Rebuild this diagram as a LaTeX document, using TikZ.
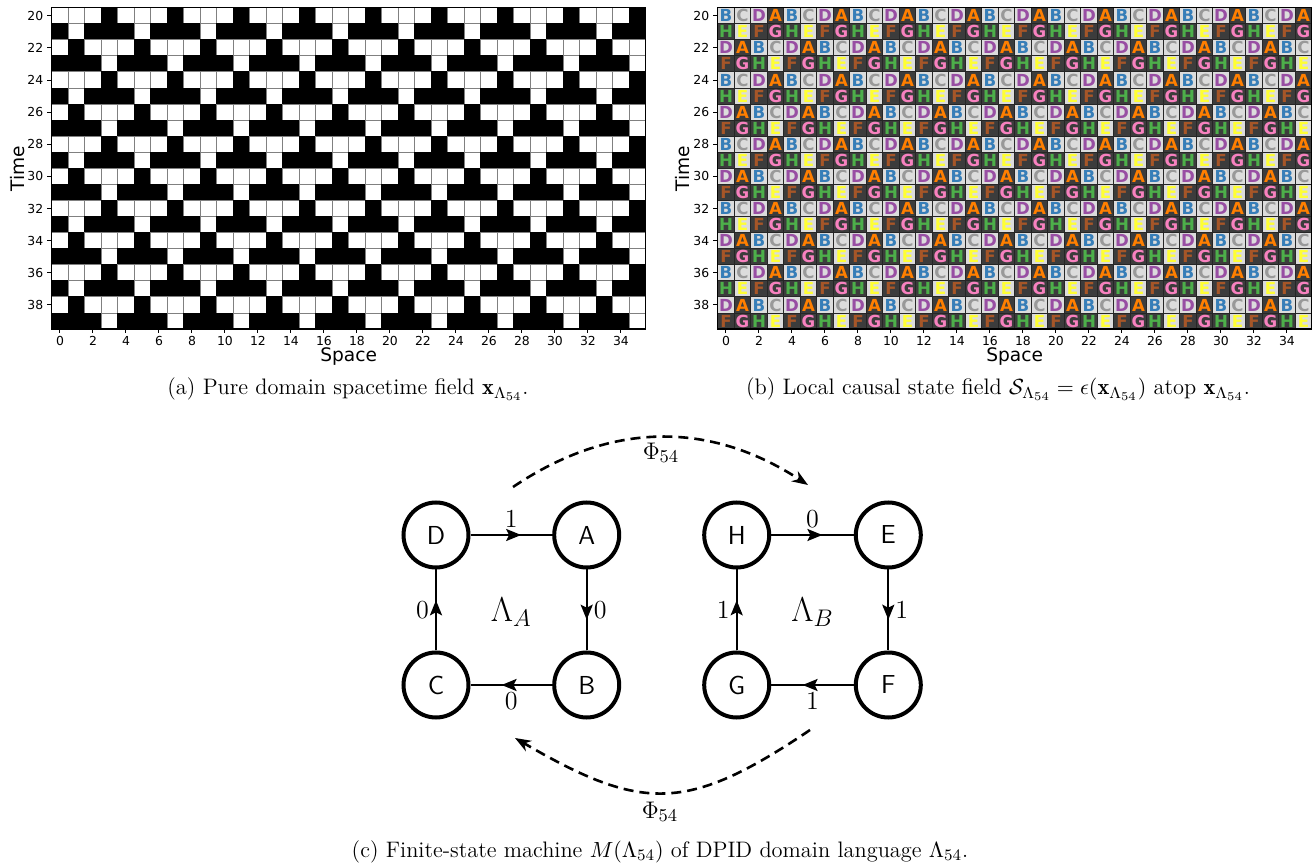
\documentclass[tikz,border=0pt]{standalone}
\usepackage{fontspec}
\usetikzlibrary{arrows.meta,decorations.markings}
\newfontfamily\mplfont{DejaVu Sans}

\definecolor{stA}{HTML}{FF7F00}
\definecolor{stB}{HTML}{377EB8}
\definecolor{stC}{HTML}{999999}
\definecolor{stD}{HTML}{984EA3}
\definecolor{stE}{HTML}{FFFF33}
\definecolor{stF}{HTML}{A65628}
\definecolor{stG}{HTML}{F781BF}
\definecolor{stH}{HTML}{4DAF4A}
\definecolor{lightbg}{HTML}{DCDCDC}
\definecolor{darkbg}{HTML}{3C3C3C}
\definecolor{cellgrid}{HTML}{808080}
% black cells: A F G H, white cells: B C D E
\colorlet{bwA}{black}\colorlet{bwF}{black}\colorlet{bwG}{black}\colorlet{bwH}{black}
\colorlet{bwB}{white}\colorlet{bwC}{white}\colorlet{bwD}{white}\colorlet{bwE}{white}
\colorlet{bdA}{black}\colorlet{bdF}{black}\colorlet{bdG}{black}\colorlet{bdH}{black}
\colorlet{bdB}{cellgrid}\colorlet{bdC}{cellgrid}\colorlet{bdD}{cellgrid}\colorlet{bdE}{cellgrid}
\colorlet{bgA}{darkbg}\colorlet{bgF}{darkbg}\colorlet{bgG}{darkbg}\colorlet{bgH}{darkbg}
\colorlet{bgB}{lightbg}\colorlet{bgC}{lightbg}\colorlet{bgD}{lightbg}\colorlet{bgE}{lightbg}

% local causal state at (time mod 4, space mod 4)
\newcommand\cellstate[2]{\ifcase#1 \ifcase#2 B\or C\or D\or A\fi
  \or \ifcase#2 H\or E\or F\or G\fi
  \or \ifcase#2 D\or A\or B\or C\fi
  \or \ifcase#2 F\or G\or H\or E\fi\fi}

\begin{document}
\begin{tikzpicture}[x=0.5pt,y=-0.5pt,
  ticklbl/.style={font=\mplfont\fontsize{6.2}{7}\selectfont,inner sep=1.5pt},
  axlabel/.style={font=\mplfont\fontsize{9.3}{11}\selectfont},
  statelbl/.style={font=\mplfont\bfseries\fontsize{8.3}{9}\selectfont,inner sep=0pt},
  subcap/.style={font=\fontsize{11.2}{13}\selectfont,anchor=base},
  fsmstate/.style={circle,draw,line width=2pt,minimum size=32.5pt,inner sep=0pt,font=\sffamily\fontsize{13}{15}\selectfont},
  trans/.style={line width=1.1pt,postaction={decorate},
    decoration={markings,mark=at position 0.62 with {\arrow{Stealth[length=7.5pt,width=6pt,inset=1.5pt]}}}},
  edgelbl/.style={font=\fontsize{13}{15}\selectfont,inner sep=3pt},
  phimap/.style={-{Stealth[length=8pt,width=6pt]},line width=1.3pt,dash pattern=on 5pt off 3pt},
  phimark/.style={font=\fontsize{13}{15}\selectfont}]
\useasboundingbox (0,0) rectangle (1314,866);

% (a) spacetime field
\begin{scope}[shift={(51.7,7.7)},x=8.25pt,y=-8.035pt]
  \foreach \t in {0,...,19}{
    \pgfmathtruncatemacro\tph{mod(\t,4)}
    \foreach \s in {0,...,35}{
      \pgfmathtruncatemacro\xph{mod(\s,4)}
      \edef\cstate{\cellstate{\tph}{\xph}}
      \filldraw[fill=bw\cstate,draw=bd\cstate,line width=0.5pt] (\s,\t) rectangle ++(1,1);
    }
  }
  \draw[line width=0.6pt] (0,0) rectangle (36,20);
  \foreach \k in {0,2,...,34}
    \draw[line width=0.5pt] (\k+0.5,20) -- ++(0,0.25) node[below,ticklbl]{\k};
  \foreach \k in {0,2,...,18}{
    \pgfmathtruncatemacro\lab{\k+20}
    \draw[line width=0.5pt] (0,\k+0.5) -- ++(-0.3,0) node[left,ticklbl]{\lab};
  }
  \node[axlabel] at (18,21.7) {Space};
  \node[axlabel,rotate=90] at (-2.07,10) {Time};
\end{scope}

% (b) causal states atop the field
\begin{scope}[shift={(717.7,7.7)},x=8.25pt,y=-8.035pt]
  \foreach \t in {0,...,19}{
    \pgfmathtruncatemacro\tph{mod(\t,4)}
    \foreach \s in {0,...,35}{
      \pgfmathtruncatemacro\xph{mod(\s,4)}
      \edef\cstate{\cellstate{\tph}{\xph}}
      \filldraw[fill=bg\cstate,draw=black!85,line width=0.5pt] (\s,\t) rectangle ++(1,1);
      \node[statelbl,text=st\cstate] at (\s+0.5,\t+0.5) {\cstate};
    }
  }
  \draw[line width=0.6pt] (0,0) rectangle (36,20);
  \foreach \k in {0,2,...,34}
    \draw[line width=0.5pt] (\k+0.5,20) -- ++(0,0.25) node[below,ticklbl]{\k};
  \foreach \k in {0,2,...,18}{
    \pgfmathtruncatemacro\lab{\k+20}
    \draw[line width=0.5pt] (0,\k+0.5) -- ++(-0.3,0) node[left,ticklbl]{\lab};
  }
  \node[axlabel] at (18,21.7) {Space};
  \node[axlabel,rotate=90] at (-2.1,10) {Time};
\end{scope}

\node[subcap] (capa) at (348,395) {(a) Pure domain spacetime field $\mathbf{x}_{\Lambda_{54}}$.};
\node[subcap] (capb) at (998,395) {(b) Local causal state field $\mathcal{S}_{\Lambda_{54}} = \epsilon(\mathbf{x}_{\Lambda_{54}})$ atop $\mathbf{x}_{\Lambda_{54}}$.};

% (c) machine of the domain
\node[fsmstate] (D) at (436,535) {D};
\node[fsmstate] (A) at (586.7,535) {A};
\node[fsmstate] (C) at (436,685) {C};
\node[fsmstate] (B) at (586.7,685) {B};
\node[fsmstate] (H) at (736.7,535) {H};
\node[fsmstate] (E) at (888.3,535) {E};
\node[fsmstate] (G) at (736.7,685) {G};
\node[fsmstate] (F) at (888.3,685) {F};

\draw[trans] (D) -- node[edgelbl,above]{1} (A);
\draw[trans] (A) -- node[edgelbl,right]{0} (B);
\draw[trans] (B) -- node[edgelbl,below]{0} (C);
\draw[trans] (C) -- node[edgelbl,left]{0} (D);
\draw[trans] (H) -- node[edgelbl,above]{0} (E);
\draw[trans] (E) -- node[edgelbl,right]{1} (F);
\draw[trans] (F) -- node[edgelbl,below]{1} (G);
\draw[trans] (G) -- node[edgelbl,left]{1} (H);
\node[font=\fontsize{17}{19}\selectfont] (lamA) at (511.3,612) {$\Lambda_A$};
\node[font=\fontsize{17}{19}\selectfont] (lamB) at (812.5,612) {$\Lambda_B$};

\coordinate (topS) at (513,487);
\coordinate (topE) at (808,485);
\coordinate (botS) at (810,730);
\coordinate (botE) at (515,738);
\draw[phimap] (topS) .. controls +(98,-66) and +(-98,-64) .. (topE);
\draw[phimap] (botS) .. controls +(-123,83) and +(127,74) .. (botE);
\node[phimark] (phitop) at (661,453) {$\Phi_{54}$};
\node[phimark] (phibot) at (660,812) {$\Phi_{54}$};

\node[subcap] (capc) at (660,857) {(c) Finite-state machine $M(\Lambda_{54})$ of DPID domain language $\Lambda_{54}$.};
\end{tikzpicture}
\end{document}
